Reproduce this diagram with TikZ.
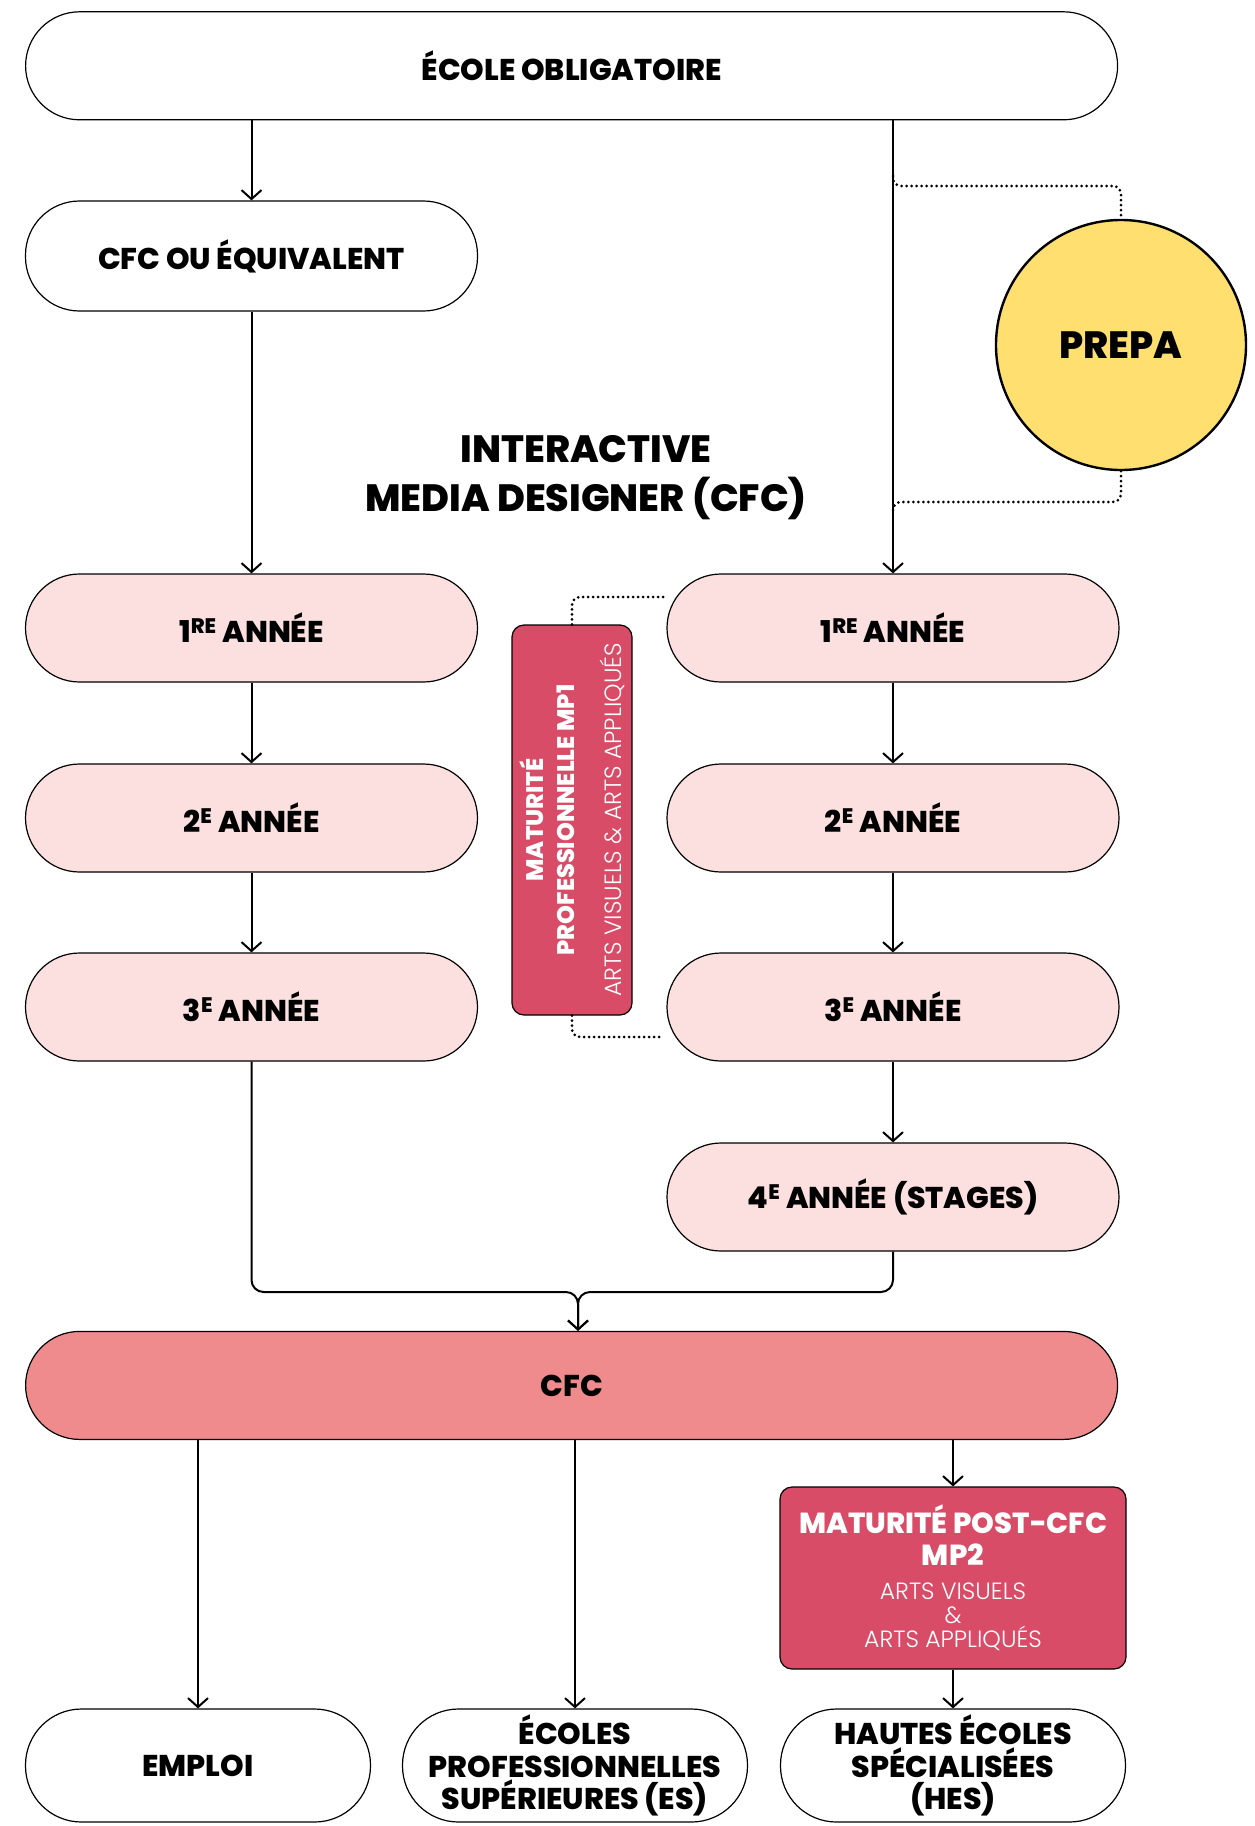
\documentclass[tikz,border=0pt]{standalone}
\usepackage{fontspec}
\setmainfont{Poppins}[BoldFont=* ExtraBold]
\newfontfamily\lightfont{Poppins Light}
\usetikzlibrary{arrows.meta, positioning, calc}
\definecolor{pillpink}{HTML}{FBE0DF}
\definecolor{cfcsalmon}{HTML}{F08B8D}
\definecolor{matured}{HTML}{D84C67}
\definecolor{prepayellow}{HTML}{FEDF6F}
\newcommand\boxfont{\fontsize{30}{32.6}\selectfont\bfseries}
\newcommand\matubold{\fontsize{24}{31}\selectfont\rmfamily\bfseries}
\newcommand\matulight{\fontsize{23.5}{31}\selectfont\lightfont\mdseries}
\newcommand\posthead{\fontsize{29}{24}\selectfont\rmfamily\bfseries}
\newcommand\postlight{\fontsize{23.5}{24}\selectfont\lightfont\mdseries}

\begin{document}
\begin{tikzpicture}[x=1pt, y=-1pt,
    box/.style={draw, line width=1.2pt, rounded corners=54pt, minimum height=108pt, inner sep=0pt, align=center, font=\boxfont},
    yearbox/.style={box, fill=pillpink, minimum width=452pt},
    widebox/.style={box, minimum width=1092pt},
    endbox/.style={box, minimum width=345pt, minimum height=113pt, rounded corners=56pt},
    matu/.style={draw, line width=1.2pt, fill=matured, rounded corners=12pt, inner sep=0pt, text=white, align=center},
    arr/.style={line width=2pt, -{Straight Barb[length=9pt, width=20pt]}},
    dotline/.style={line width=3pt, dash pattern=on 0pt off 5pt, line cap=round, rounded corners=8pt}]
    \useasboundingbox (0,0) rectangle (1255,1826);

    % top
    \node[widebox] (ecole) at (571.6,65.8) {ÉCOLE OBLIGATOIRE};
    \node[box, minimum width=452pt, minimum height=110pt] (cfceq) at (251.5,256) {CFC OU ÉQUIVALENT};
    \node[draw, circle, line width=2.4pt, fill=prepayellow, minimum size=250pt, font=\fontsize{38}{40}\selectfont\bfseries] (prepa) at (1121,345) {PREPA};
    \node[align=center, font=\fontsize{38}{49}\selectfont\bfseries] (title) at (586,478) {INTERACTIVE\\MEDIA DESIGNER (CFC)};

    % years
    \node[yearbox] (y1l) at (251.5,628) {1\textsuperscript{RE} ANNÉE};
    \node[yearbox] (y2l) at (251.5,818) {2\textsuperscript{E} ANNÉE};
    \node[yearbox] (y3l) at (251.5,1007) {3\textsuperscript{E} ANNÉE};
    \node[yearbox] (y1r) at (893,628) {1\textsuperscript{RE} ANNÉE};
    \node[yearbox] (y2r) at (893,818) {2\textsuperscript{E} ANNÉE};
    \node[yearbox] (y3r) at (893,1007) {3\textsuperscript{E} ANNÉE};
    \node[yearbox] (y4r) at (893,1197) {4\textsuperscript{E} ANNÉE (STAGES)};

    \node[matu, rotate=90, minimum width=390pt, minimum height=120pt, font=\matubold] (mp1) at (572,820) {\matubold MATURITÉ\\\matubold PROFESSIONNELLE MP1\\[16pt]\matulight ARTS VISUELS \& ARTS APPLIQUÉS};

    % cfc and after
    \node[widebox, fill=cfcsalmon] (cfc) at (571.6,1385.4) {CFC};
    \node[matu, minimum width=346pt, minimum height=182pt, font=\postlight] (mp2) at (953,1578) {\posthead MATURITÉ POST-CFC\\[8pt]\posthead MP2\\[10pt]\postlight ARTS VISUELS\\\postlight \&\\\postlight ARTS APPLIQUÉS};
    \node[endbox] (emploi) at (198,1765.5) {EMPLOI};
    \node[endbox] (es) at (575,1765.5) {ÉCOLES\\PROFESSIONNELLES\\SUPÉRIEURES (ES)};
    \node[endbox] (hes) at (953,1765.5) {HAUTES ÉCOLES\\SPÉCIALISÉES\\(HES)};

    % connectors
    \draw[arr] (cfceq.north |- ecole.south) -- (cfceq.north);
    \draw[arr] (y1r.north |- ecole.south) -- (y1r.north);
    \draw[arr] (cfceq.south) -- (y1l.north);
    \draw[arr] (y1l) -- (y2l);
    \draw[arr] (y2l) -- (y3l);
    \draw[arr] (y1r) -- (y2r);
    \draw[arr] (y2r) -- (y3r);
    \draw[arr] (y3r) -- (y4r);
    \coordinate (join) at (578,1292);
    \draw[arr, rounded corners=12pt] (y3l.south) |- (join) -- (join |- cfc.north);
    \draw[arr, rounded corners=12pt] (y4r.south) |- (join) -- (join |- cfc.north);
    \draw[arr] (emploi.north |- cfc.south) -- (emploi.north);
    \draw[arr] (es.north |- cfc.south) -- (es.north);
    \draw[arr] (mp2.north |- cfc.south) -- (mp2.north);
    \draw[arr] (mp2) -- (hes);

    % dotted links
    \coordinate (pin1) at (893,176);
    \coordinate (pin2) at (893,512);
    \draw[dotline] (pin1) -- ++(0,10) -| (prepa.north);
    \draw[dotline] (prepa.south) |- ([yshift=10pt]pin2) -- (pin2);
    \coordinate (mp1top) at (664,597);
    \coordinate (mp1bot) at (664,1037);
    \draw[dotline] (mp1.east) |- (mp1top);
    \draw[dotline] (mp1.west) |- (mp1bot);
\end{tikzpicture}
\end{document}
